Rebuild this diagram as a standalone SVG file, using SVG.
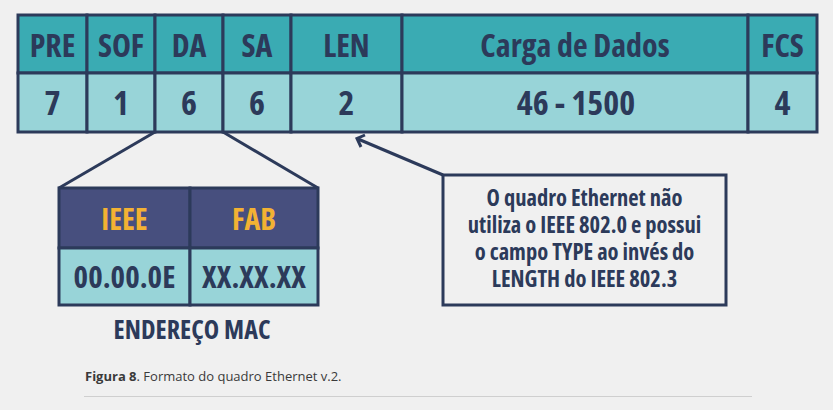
<svg xmlns="http://www.w3.org/2000/svg" width="833" height="410" viewBox="0 0 833 410">
<style>
.hd{fill:#3aabb3;stroke:#2c3a5a;stroke-width:3}
.lt{fill:#98d4d8;stroke:#2c3a5a;stroke-width:3}
.mh{fill:#474f7e;stroke:#2c3a5a;stroke-width:3}
.t{font-family:"Open Sans","DejaVu Sans Condensed",sans-serif;font-stretch:condensed;font-weight:700;fill:#2c3a5a;text-anchor:middle}
.h{font-size:32px}
.n{font-size:34px}
.m{font-size:31px}
.y{fill:#f3b233}
.c{font-size:22.5px}
.ln{stroke:#2c3a5a;stroke-width:3;fill:none}
.cap{font-family:"Open Sans",sans-serif;font-size:13px;fill:#3a3a3a}
</style>
<rect width="833" height="410" fill="#f0f0f0"/>
<g id="frame">
<g id="pre"><rect class="hd" x="18" y="15" width="69" height="58"/><rect class="lt" x="18" y="73" width="69" height="59"/><text class="t h" x="52.5" y="57">PRE</text><text class="t n" x="52.5" y="115">7</text></g>
<g id="sof"><rect class="hd" x="87" y="15" width="68" height="58"/><rect class="lt" x="87" y="73" width="68" height="59"/><text class="t h" x="121" y="57">SOF</text><text class="t n" x="121" y="115">1</text></g>
<g id="da"><rect class="hd" x="155" y="15" width="68" height="58"/><rect class="lt" x="155" y="73" width="68" height="59"/><text class="t h" x="189" y="57">DA</text><text class="t n" x="189" y="115">6</text></g>
<g id="sa"><rect class="hd" x="223" y="15" width="68" height="58"/><rect class="lt" x="223" y="73" width="68" height="59"/><text class="t h" x="257" y="57">SA</text><text class="t n" x="257" y="115">6</text></g>
<g id="len"><rect class="hd" x="291" y="15" width="111" height="58"/><rect class="lt" x="291" y="73" width="111" height="59"/><text class="t h" x="346.5" y="57">LEN</text><text class="t n" x="346.5" y="115">2</text></g>
<g id="dados"><rect class="hd" x="402" y="15" width="346" height="58"/><rect class="lt" x="402" y="73" width="346" height="59"/><text class="t h" x="575" y="57">Carga de Dados</text><text class="t n" x="576" y="115">46 - 1500</text></g>
<g id="fcs"><rect class="hd" x="748" y="15" width="69" height="58"/><rect class="lt" x="748" y="73" width="69" height="59"/><text class="t h" x="782.5" y="57">FCS</text><text class="t n" x="782.5" y="115">4</text></g>
</g>
<g id="mac">
<rect class="mh" x="59" y="188" width="131" height="60"/><rect class="mh" x="190" y="188" width="128" height="60"/>
<rect class="lt" x="59" y="248" width="131" height="57"/><rect class="lt" x="190" y="248" width="128" height="57"/>
<text class="t h y" style="font-size:30px" x="124.5" y="230">IEEE</text><text class="t h y" style="font-size:30px" x="254" y="230">FAB</text>
<text class="t m" x="124.5" y="288">00.00.0E</text><text class="t m" x="254" y="288">XX.XX.XX</text>
<text class="t" style="font-size:26px" x="192" y="339" textLength="157" lengthAdjust="spacing">ENDEREÇO MAC</text>
</g>
<g id="note">
<rect x="443" y="175" width="283" height="130" fill="none" stroke="#2c3a5a" stroke-width="3"/>
<text class="t c" x="584.5" y="206">O quadro Ethernet não</text>
<text class="t c" x="584.5" y="233">utiliza o IEEE 802.0 e possui</text>
<text class="t c" x="584.5" y="260">o campo TYPE ao invés do</text>
<text class="t c" x="584.5" y="287">LENGTH do IEEE 802.3</text>
</g>
<g id="connectors">
<line class="ln" x1="155" y1="132" x2="59" y2="188"/>
<line class="ln" x1="223" y1="132" x2="318" y2="188"/>
<line class="ln" x1="443" y1="175" x2="358" y2="139"/>
<polyline class="ln" points="365,135 357,138.5 361,147"/>
</g>
<g id="caption">
<text class="cap" x="85" y="381"><tspan font-weight="700">Figura 8</tspan>. Formato do quadro Ethernet v.2.</text>
<line x1="84" y1="396.5" x2="752" y2="396.5" stroke="#cfcfcf" stroke-width="1"/>
</g>
</svg>
